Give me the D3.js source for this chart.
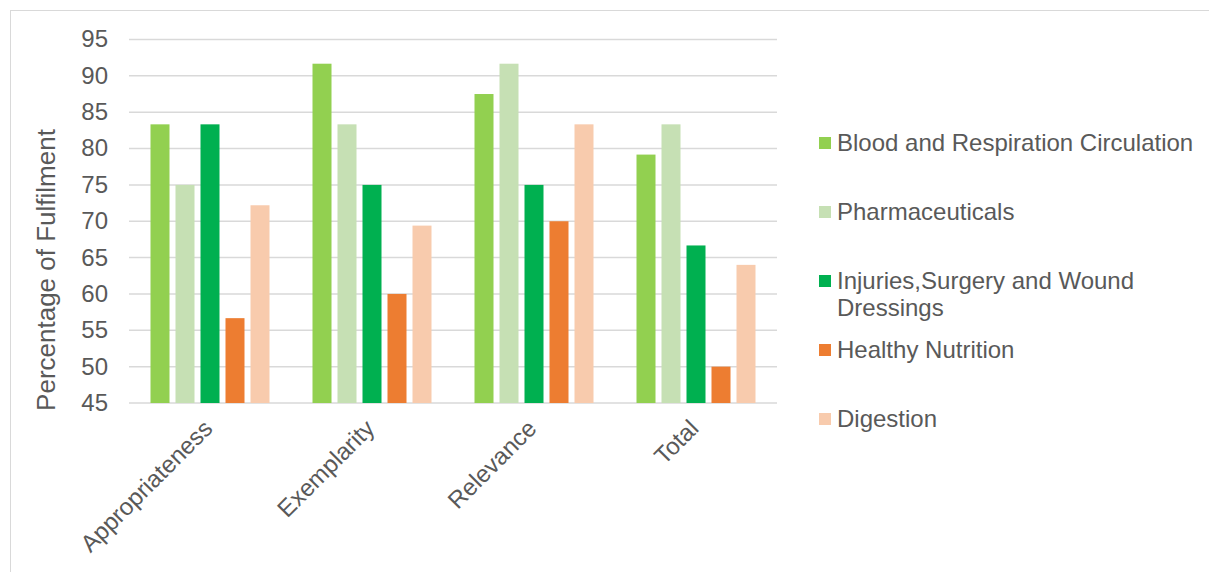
<!DOCTYPE html>
<html>
<head>
<meta charset="utf-8">
<script src="https://cdn.jsdelivr.net/npm/d3@7"></script>
<style>
  body { margin: 0; background: #fff; }
  text { font-family: "Liberation Sans", Arial, sans-serif; fill: #595959; }
</style>
</head>
<body>
<div id="chart"></div>
<script>
// data
const categories = ["Appropriateness", "Exemplarity", "Relevance", "Total"];
const seriesNames = ["Blood and Respiration Circulation", "Pharmaceuticals",
  "Injuries,Surgery and Wound Dressings", "Healthy Nutrition", "Digestion"];
const blood = [83.33, 91.67, 87.5, 79.17];
const pharma = [75, 83.33, 91.67, 83.33];
const injuries = [83.33, 75, 75, 66.67];
const nutrition = [56.67, 60, 70, 50];
const digestion = [72.2, 69.4, 83.33, 64];
const yTicks = [45, 50, 55, 60, 65, 70, 75, 80, 85, 90, 95];
const colors = ["#92D050", "#C6E0B4", "#00B050", "#ED7D31", "#F8CBAD"];

const values = [blood, pharma, injuries, nutrition, digestion];

var width = 1209, height = 572;

const svg = d3.select("#chart").append("svg")
  .attr("width", width)
  .attr("height", height);

// outer chart border
svg.append("rect")
  .attr("x", 10.5).attr("y", 10.5)
  .attr("width", 1210).attr("height", 580)
  .attr("fill", "none")
  .attr("stroke", "#d9d9d9");

const x0 = d3.scaleBand().domain(categories).range([129, 777]);
const x1 = d3.scaleBand().domain(d3.range(seriesNames.length))
  .range([x0.bandwidth() / 2 - 62.5, x0.bandwidth() / 2 + 62.5])
  .paddingInner(0.24).paddingOuter(0.12);
const y = d3.scaleLinear().domain([45, 95]).range([403, 39.5]);

// gridlines
svg.append("g").selectAll("line").data(yTicks).enter()
  .append("line")
  .attr("x1", 129).attr("x2", 777)
  .attr("y1", d => y(d)).attr("y2", d => y(d))
  .attr("stroke", "#d9d9d9")
  .attr("stroke-width", 1.5);

// y tick labels
svg.append("g").selectAll("text").data(yTicks).enter()
  .append("text")
  .attr("x", 108)
  .attr("y", d => y(d))
  .attr("dy", "0.33em")
  .attr("text-anchor", "end")
  .style("font-size", "24px")
  .text(d => d);

// y title
svg.append("text")
  .attr("transform", "translate(55,270) rotate(-90)")
  .attr("text-anchor", "middle")
  .style("font-size", "26px")
  .text("Percentage of Fulfilment");

// bars
const groups = svg.append("g").selectAll("g").data(categories).enter()
  .append("g")
  .attr("transform", d => "translate(" + x0(d) + ",0)");

groups.selectAll("rect")
  .data((c, ci) => values.map((s, si) => ({ si: si, v: s[ci] })))
  .enter().append("rect")
  .attr("x", d => x1(d.si))
  .attr("width", x1.bandwidth())
  .attr("y", d => y(d.v))
  .attr("height", d => y(45) - y(d.v))
  .attr("fill", d => colors[d.si]);

// x labels, rotated
svg.append("g").selectAll("text").data(categories).enter()
  .append("text")
  .attr("transform", d => "translate(" + (x0(d) + x0.bandwidth() / 2 + 4) + ",430) rotate(-45)")
  .attr("text-anchor", "end")
  .style("font-size", "24px")
  .text(d => d);

// legend
const legendY = [143, 212, 281, 350, 419];
const leg = svg.append("g").selectAll("g").data(seriesNames).enter()
  .append("g")
  .attr("transform", (d, i) => "translate(819," + legendY[i] + ")");

leg.append("rect")
  .attr("x", 0).attr("y", -6)
  .attr("width", 12).attr("height", 12)
  .attr("fill", (d, i) => colors[i]);

leg.append("text")
  .attr("x", 18)
  .attr("dy", "0.35em")
  .style("font-size", "24px")
  .each(function (d) {
    const t = d3.select(this);
    if (d.startsWith("Injuries")) {
      t.append("tspan").attr("x", 18).text("Injuries,Surgery and Wound");
      t.append("tspan").attr("x", 18).attr("dy", "1.1em").text("Dressings");
    } else {
      t.text(d);
    }
  });
</script>
</body>
</html>
